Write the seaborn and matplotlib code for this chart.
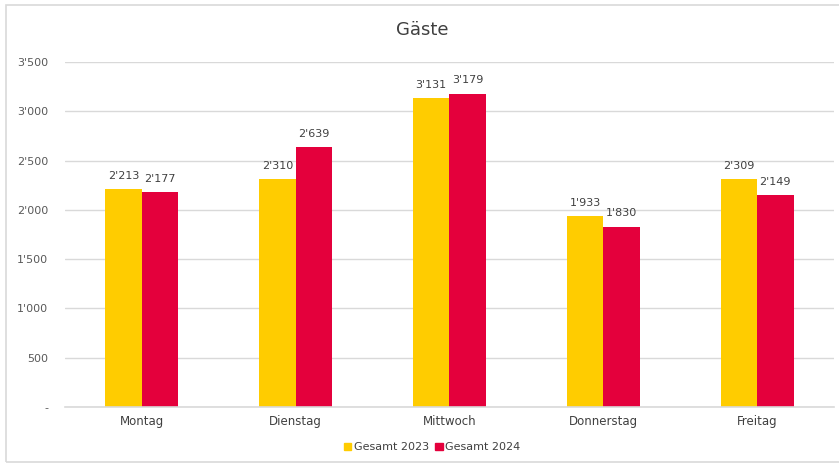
import matplotlib
matplotlib.use('Agg')
import matplotlib.pyplot as plt
import matplotlib.patches as mpatches
import pandas as pd
import seaborn as sns

days = ['Montag', 'Dienstag', 'Mittwoch', 'Donnerstag', 'Freitag']
gaeste_2023 = [2213, 2310, 3131, 1933, 2309]
gaeste_2024 = [2177, 2639, 3179, 1830, 2149]
series = ['Gesamt 2023', 'Gesamt 2024']
colors = ['#FFCC00', '#E4003C']

df = pd.DataFrame({
    'Tag': days * 2,
    'Gäste': gaeste_2023 + gaeste_2024,
    'Serie': [series[0]] * len(days) + [series[1]] * len(days),
})

sns.set_theme(style='white')
plt.rcParams['font.family'] = ['DejaVu Sans']

fig = plt.figure(figsize=(8.39, 4.65), dpi=100)
ax = fig.add_axes([0.0775, 0.1247, 0.9165, 0.742])

sns.barplot(data=df, x='Tag', y='Gäste', hue='Serie', palette=colors,
            width=0.475, gap=0, saturation=1, linewidth=0, ax=ax, legend=False)

def fmt(v):
    return f'{int(v):,}'.replace(',', "'")

for cont in ax.containers:
    labels = [fmt(b.get_height()) for b in cont]
    ax.bar_label(cont, labels=labels, padding=6, fontsize=8, color='#404040')

ax.set_ylim(0, 3500)
ax.set_xlim(-0.5, 4.5)
yt = list(range(0, 3501, 500))
ax.set_yticks(yt)
ax.set_yticklabels(['-'] + [fmt(v) for v in yt[1:]], fontsize=8, color='#595959')
ax.tick_params(axis='x', labelsize=8.5, colors='#404040', length=0, pad=6)
ax.tick_params(axis='y', length=0, pad=12)
ax.grid(axis='y', color='#D9D9D9', linewidth=1)
ax.set_axisbelow(True)
for s in ['top', 'right', 'left']:
    ax.spines[s].set_visible(False)
ax.spines['bottom'].set_color('#D9D9D9')
ax.spines['bottom'].set_linewidth(1.2)
ax.set_xlabel('')
ax.set_ylabel('')

fig.text(0.503, 0.935, 'Gäste', ha='center', va='center', fontsize=13, color='#404040')

handles = [mpatches.Patch(color=c, label=l) for c, l in zip(colors, series)]
fig.legend(handles=handles, loc='center', bbox_to_anchor=(0.515, 0.038), ncol=2,
           frameon=False, fontsize=8, handlelength=0.7, handleheight=0.7,
           handletextpad=0.2, columnspacing=0.6, labelcolor='#404040')

fig.patches.append(mpatches.Rectangle((0.007, 0.006), 0.995, 0.984, transform=fig.transFigure,
                                      fill=False, edgecolor='#D9D9D9', linewidth=1.2))

fig.savefig('out.png', dpi=100)
